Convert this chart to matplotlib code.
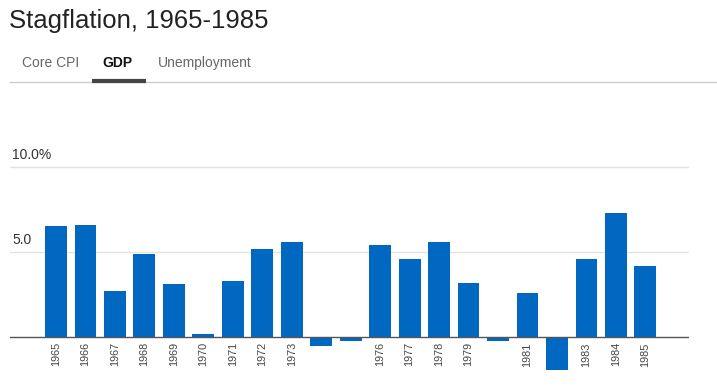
import matplotlib
matplotlib.use("Agg")
import matplotlib.pyplot as plt
from matplotlib.lines import Line2D

years = list(range(1965, 1986))
gdp = [6.5, 6.6, 2.7, 4.9, 3.1, 0.2, 3.3, 5.2, 5.6, -0.5, -0.2,
       5.4, 4.6, 5.6, 3.2, -0.2, 2.6, -1.9, 4.6, 7.3, 4.2]
tabs = ["Core CPI", "GDP", "Unemployment"]
title = "Stagflation, 1965-1985"
ytick_vals = [5.0, 10.0]
ytick_labels = ["5.0", "10.0%"]

plt.rcParams['font.family'] = ['Liberation Sans', 'DejaVu Sans']

W, H = 717, 391
fig = plt.figure(figsize=(W / 100, H / 100), dpi=100)
fig.patch.set_facecolor("white")

def fx(px):
    return px / W

def fy(py):
    return 1 - py / H

# Title and tabs
fig.text(fx(9), fy(21), title, fontsize=18.5, color="#222222", va="center", ha="left")
tab_x = [22, 102, 158]
for t, x in zip(tabs, tab_x):
    bold = (t == "GDP")
    fig.text(fx(x), fy(63), t, fontsize=10, color="#111111" if bold else "#666666",
             fontweight="bold" if bold else "normal", va="center", ha="left")
fig.add_artist(Line2D([fx(10), fx(717)], [fy(82), fy(82)], color="#cccccc", lw=1.0,
                      transform=fig.transFigure))
fig.add_artist(Line2D([fx(92), fx(146)], [fy(81), fy(81)], color="#444444", lw=3.0,
                      transform=fig.transFigure, solid_capstyle="butt"))

# Axes placement
ymin, ymax = -2.5, 10.5
zero_px, ten_px = 337.3, 166.7
ppu = (zero_px - ten_px) / 10.0
top_px = zero_px - ymax * ppu
bot_px = zero_px - ymin * ppu
left_px, right_px = 10, 689
ax = fig.add_axes([fx(left_px), fy(bot_px), fx(right_px - left_px), (bot_px - top_px) / H])
ax.set_facecolor("none")
x = list(range(len(years)))
ax.set_xlim(-1.56, len(years) - 1 + 1.48)
ax.set_ylim(ymin, ymax)

for v in ytick_vals:
    ax.axhline(v, color="#e3e3e3", lw=1.0, zorder=0)
for v, lab in zip(ytick_vals, ytick_labels):
    ax.annotate(lab, xy=(0, v), xycoords=("axes fraction", "data"),
                xytext=(1.5, 3.5), textcoords="offset points", fontsize=10,
                color="#333333", ha="left", va="bottom")

ax.bar(x, gdp, width=0.74, color="#0068c0", zorder=2)
ax.axhline(0, color="#555555", lw=1.0, zorder=3)

for s in ax.spines.values():
    s.set_visible(False)
ax.set_yticks([])
ax.spines['bottom'].set_position(('data', 0))
pos_idx = [i for i, v in enumerate(gdp) if v > 0]
ax.set_xticks(pos_idx)
ax.set_xticklabels([str(years[i]) for i in pos_idx], rotation=90, fontsize=7.8,
                   color="#444444")
ax.tick_params(axis="x", length=0, pad=3.5)

fig.savefig("out.png", dpi=100, facecolor="white")
